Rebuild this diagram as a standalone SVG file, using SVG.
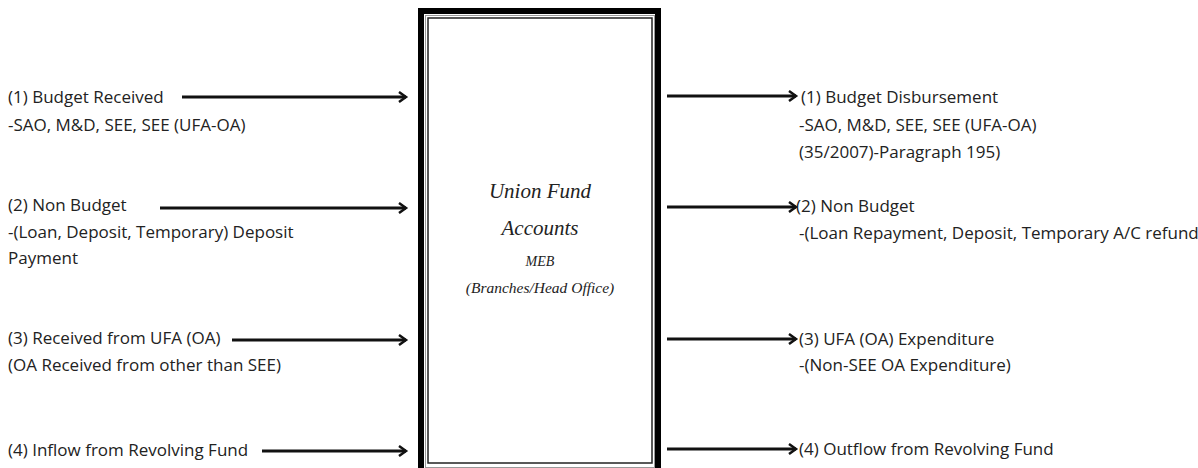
<svg xmlns="http://www.w3.org/2000/svg" width="1198" height="468" viewBox="0 0 1198 468">
<style>
.t{font-family:"Open Sans","Liberation Sans",sans-serif;font-size:17px;fill:#222}
.c{font-family:"Liberation Serif","DejaVu Serif",serif;font-style:italic;fill:#222;text-anchor:middle}
.a{stroke:#111;stroke-width:3;fill:none;marker-end:url(#h)}
</style>
<defs>
<marker id="h" markerWidth="12" markerHeight="12" refX="9" refY="6" orient="auto" markerUnits="userSpaceOnUse">
<path d="M2,1 L9,6 L2,11" fill="none" stroke="#111" stroke-width="2.5"/>
</marker>
</defs>
<rect width="1198" height="468" fill="#fff"/>
<g id="connectors">
<line class="a" x1="182" y1="97" x2="406" y2="97"/>
<line class="a" x1="160" y1="208" x2="406" y2="208"/>
<line class="a" x1="232" y1="340" x2="406" y2="340"/>
<line class="a" x1="262" y1="451" x2="406" y2="451"/>
<line class="a" x1="667" y1="96" x2="796" y2="96"/>
<line class="a" x1="667" y1="207" x2="796" y2="207"/>
<line class="a" x1="667" y1="339" x2="796" y2="339"/>
<line class="a" x1="667" y1="449" x2="796" y2="449"/>
</g>
<g id="center">
<rect x="421" y="11" width="237" height="480" fill="#fff" stroke="#000" stroke-width="6"/>
<rect x="425.5" y="15.5" width="229" height="452" fill="none" stroke="#999" stroke-width="1"/>
<rect x="428" y="18" width="224" height="445" fill="none" stroke="#222" stroke-width="1.5"/>
<text class="c" x="540" y="198" font-size="21">Union Fund</text>
<text class="c" x="540" y="235" font-size="21">Accounts</text>
<text class="c" x="540" y="266" font-size="14">MEB</text>
<text class="c" x="540" y="293" font-size="15.5">(Branches/Head Office)</text>
</g>
<g id="in1"><text class="t" x="8" y="103">(1) Budget Received</text><text class="t" x="8" y="131">-SAO, M&amp;D, SEE, SEE (UFA-OA)</text></g>
<g id="in2"><text class="t" x="8" y="211">(2) Non Budget</text><text class="t" x="8" y="238">-(Loan, Deposit, Temporary) Deposit</text><text class="t" x="8" y="264">Payment</text></g>
<g id="in3"><text class="t" x="8" y="344">(3) Received from UFA (OA)</text><text class="t" x="8" y="371">(OA Received from other than SEE)</text></g>
<g id="in4"><text class="t" x="8" y="456">(4) Inflow from Revolving Fund</text></g>
<g id="out1"><text class="t" x="801" y="103">(1) Budget Disbursement</text><text class="t" x="799" y="131">-SAO, M&amp;D, SEE, SEE (UFA-OA)</text><text class="t" x="799" y="158">(35/2007)-Paragraph 195)</text></g>
<g id="out2"><text class="t" x="796" y="212">(2) Non Budget</text><text class="t" x="799" y="239">-(Loan Repayment, Deposit, Temporary A/C refund</text></g>
<g id="out3"><text class="t" x="799" y="345">(3) UFA (OA) Expenditure</text><text class="t" x="799" y="371">-(Non-SEE OA Expenditure)</text></g>
<g id="out4"><text class="t" x="799" y="455">(4) Outflow from Revolving Fund</text></g>
</svg>
